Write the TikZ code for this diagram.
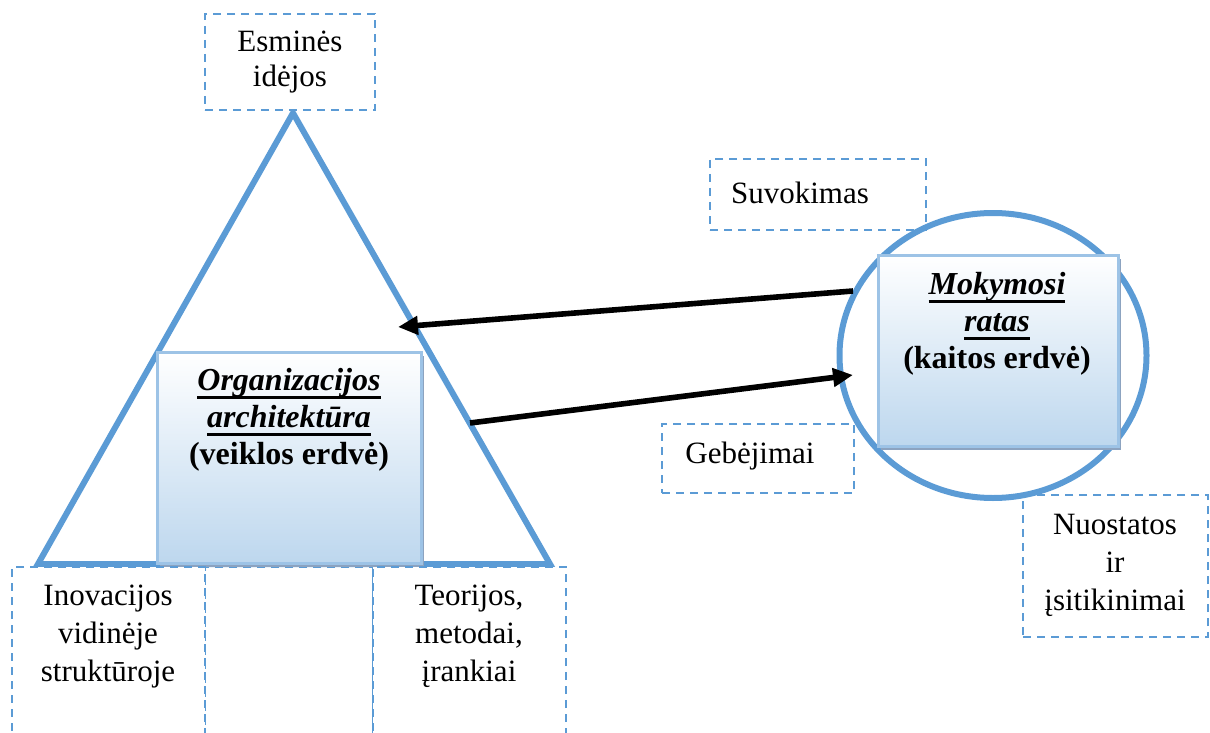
\documentclass[tikz,border=0pt]{standalone}
\usepackage{fontspec}
\setmainfont{Liberation Serif}
\usepackage{tikz}
\usetikzlibrary{shapes.geometric, arrows.meta, shadows}

\newcommand{\thul}[1]{\setbox0\hbox{#1}\rlap{\rule[-4pt]{\wd0}{1.3pt}}\box0}

\definecolor{lineblue}{RGB}{91,155,213}
\definecolor{edgeblue}{RGB}{157,195,230}
\definecolor{fillblue}{RGB}{189,215,238}
\definecolor{shadeblue}{RGB}{140,163,192}

\tikzset{
    dbox/.style={draw=lineblue, line width=1.4pt, dash pattern=on 4pt off 3pt, fill=white, inner sep=0pt},
    gbox/.style={draw=edgeblue, line width=1.5pt, top color=white, bottom color=fillblue, inner sep=0pt,
        general shadow={fill=shadeblue, shadow xshift=1.5pt, shadow yshift=-2pt}},
    txt/.style={font=\fontsize{15.5}{19}\selectfont, align=center, inner sep=0pt},
    btxt/.style={font=\fontsize{16}{18.5}\selectfont\bfseries, align=center, inner sep=0pt},
    bold line/.style={draw=lineblue, line width=3pt},
    arr/.style={-{Triangle[length=10pt,width=9pt]}, line width=2.8pt},
}

\begin{document}
\begin{tikzpicture}[x=0.5pt, y=-0.5pt]
    \clip (0,0) rectangle (1210,733);
    \node[dbox, minimum width=84pt, minimum height=100pt] (Mid) at (289,667) {};
    \coordinate (Top) at (293,113);
    \coordinate (BL) at (38,564);
    \coordinate (BR) at (550,564);
    \draw[bold line] (Top) -- (BL) -- (BR) -- cycle;
    \node[dbox, txt, font=\fontsize{15.5}{17.5}\selectfont, minimum width=85pt, minimum height=48pt] (Es) at (290,62) {Esminės\\idėjos};
    \node[gbox, minimum width=132pt, minimum height=105.5pt] (Org) at (289,457.5) {};
    \node[btxt, anchor=north] (OrgT) at (289,368) {\thul{\textit{Organizacijos}}\\\thul{\textit{architektūra}}\\(veiklos erdvė)};
    \node[dbox, minimum width=96.5pt, minimum height=100pt] (In) at (108.5,667) {};
    \node[txt, anchor=north] (InT) at (108,585) {Inovacijos\\vidinėje\\struktūroje};
    \node[dbox, minimum width=96.5pt, minimum height=100pt] (Te) at (469.5,667) {};
    \node[txt, anchor=north] (TeT) at (469,585) {Teorijos,\\metodai,\\įrankiai};
    \node[dbox, minimum width=108pt, minimum height=35.5pt] (Su) at (818,194.5) {};
    \node[txt] (SuT) at (800,193) {Suvokimas};
    \node[dbox, minimum width=96pt, minimum height=34.5pt] (Ge) at (758,458.5) {};
    \node[txt] (GeT) at (750,456) {Gebėjimai};
    \node[dbox, minimum width=92.5pt, minimum height=71pt] (Nu) at (1115.5,566) {};
    \node[txt, anchor=north] (NuT) at (1115,514) {Nuostatos\\ir\\įsitikinimai};
    \node[ellipse, bold line, minimum width=153.5pt, minimum height=142.5pt] (Ring) at (993,355.5) {};
    \node[gbox, minimum width=120pt, minimum height=95.5pt] (Mk) at (998,350.5) {};
    \node[btxt, anchor=north] (MkT) at (997,272) {\thul{\textit{Mokymosi}}\\\thul{\textit{ratas}}\\(kaitos erdvė)};
    \coordinate (MkOut) at (853,291);
    \coordinate (OrgIn) at (398,327);
    \coordinate (OrgOut) at (470,423);
    \coordinate (MkIn) at (853,375);
    \draw[arr] (MkOut) -- (OrgIn);
    \draw[arr] (OrgOut) -- (MkIn);
\end{tikzpicture}
\end{document}
